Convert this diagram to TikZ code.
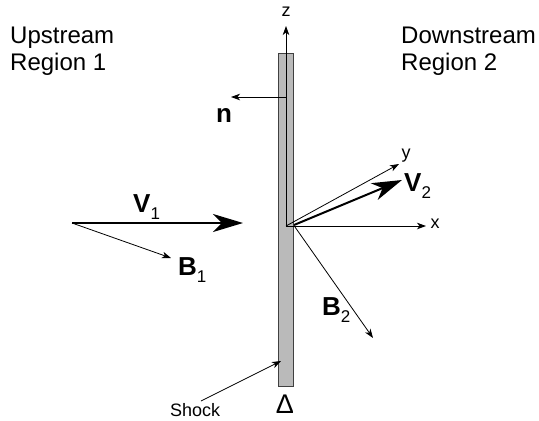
\documentclass[tikz,border=0pt]{standalone}
\usepackage{fontspec}
\setmainfont{Liberation Sans}
\usetikzlibrary{arrows.meta}
\tikzset{
  thinarrow/.style={line width=0.8pt,-{Stealth[length=9pt,width=6.5pt,inset=2.5pt]}},
  bigarrow/.style={line width=2pt,-{Stealth[length=30pt,width=18pt,inset=9pt]}},
  bigtext/.style={font=\fontsize{24}{27}\selectfont,inner sep=0pt,anchor=base west},
  smalltext/.style={font=\fontsize{18}{20}\selectfont,inner sep=0pt},
  vec/.style={font=\bfseries\fontsize{26}{28}\selectfont,inner sep=0pt},
  slab/.style={fill=black!27,draw=black!75,line width=0.9pt}
}
\newcommand{\subsc}[1]{\raisebox{-7pt}{\mdseries\fontsize{17}{17}\selectfont #1}}
\begin{document}
\begin{tikzpicture}[x=1pt,y=-1pt]
\useasboundingbox (0,0) rectangle (539,421);
% shock slab
\node[slab,minimum width=15pt,minimum height=333pt,inner sep=0pt] (slab) at (285.5,219.5) {};
% coordinates
\coordinate (O) at (286,226);
\coordinate (Ztip) at (286,26);
\coordinate (Nbase) at (286,97);
\coordinate (Ntip) at (231,97);
\coordinate (Xtip) at (426,226);
\coordinate (Ytip) at (399,164);
\coordinate (V2s) at (294,225);
\coordinate (V2t) at (402,180);
\coordinate (B2s) at (295,227);
\coordinate (B2t) at (373,338);
\coordinate (V1s) at (72,223);
\coordinate (V1t) at (243,223);
\coordinate (B1t) at (171,258);
\coordinate (Shs) at (201,401);
\coordinate (Sht) at (281,361);
% axes
\draw[thinarrow] (O) -- (Ztip);
\draw[thinarrow] (Nbase) -- (Ntip);
\draw[thinarrow] (O) -- (Xtip);
\draw[thinarrow] (O) -- (Ytip);
\draw[thinarrow] (B2s) -- (B2t);
\draw[bigarrow] (V2s) -- (V2t);
\draw[bigarrow] (V1s) -- (V1t);
\draw[thinarrow] (V1s) -- (B1t);
\draw[thinarrow] (Shs) -- (Sht);
% labels
\node[bigtext] (up1) at (10,43) {Upstream};
\node[bigtext] (up2) at (10,70) {Region 1};
\node[bigtext] (dn1) at (401,43) {Downstream};
\node[bigtext] (dn2) at (401,70) {Region 2};
\node[smalltext] (zl) at (286,12) {z};
\node[smalltext] (xl) at (435,224) {x};
\node[smalltext] (yl) at (406,156) {y};
\node[vec,anchor=base west] (nl) at (216,122) {n};
\node[vec,anchor=base west] (v1l) at (133,212) {V\subsc{1}};
\node[vec,anchor=base west] (b1l) at (178,275) {B\subsc{1}};
\node[vec,anchor=base west] (v2l) at (404,191) {V\subsc{2}};
\node[vec,anchor=base west] (b2l) at (322,315) {B\subsc{2}};
\node[smalltext,anchor=base west] (shock) at (170,416) {Shock};
\node[font=\fontsize{27}{29}\selectfont,inner sep=0pt,anchor=base] (delta) at (285,413) {Δ};
\end{tikzpicture}
\end{document}
